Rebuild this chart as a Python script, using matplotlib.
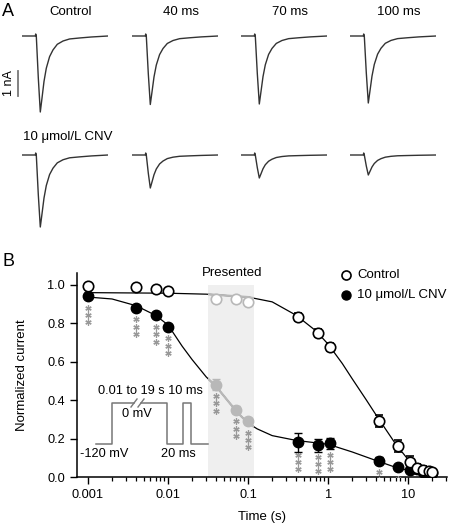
import numpy as np
import matplotlib.pyplot as plt
from matplotlib.ticker import FixedLocator, NullFormatter, FuncFormatter

plt.rcParams['font.family'] = ['Liberation Sans', 'DejaVu Sans']
plt.rcParams['font.size'] = 9.2

W, H = 450, 525

# ---- Panel A: current traces ----
conditions = ['Control', '40 ms', '70 ms', '100 ms']
control_peak_nA = [3.04, 2.74, 2.72, 2.68]
cnv_peak_nA = [2.88, 1.32, 0.92, 0.80]

# trace shape (time in ms-like units, peak = -1)
trace_t = [-13.3, 0, 0.4, 1.0, 3.0, 5.0, 6.7, 8.7, 11.0, 14.3, 17.7, 22.0, 27.7, 34.3, 44.3, 56.0, 72.7]
trace_shape = [0, 0, 0, 0, -0.55, -1.0, -0.817, -0.598, -0.424, -0.271, -0.183, -0.109, -0.066,
               -0.039, -0.026, -0.013, 0]
artifact_nA = [0, 0, 0.08, 0, 0, 0, 0, 0, 0, 0, 0, 0, 0, 0, 0, 0, 0]

# ---- Panel B: normalized current vs time ----
time_s = [0.001, 0.004, 0.007, 0.01, 0.04, 0.07, 0.1, 0.42, 0.75, 1.05, 4.3, 7.5, 10.5, 13, 15.5, 18, 20]
control_y = [0.99, 0.985, 0.975, 0.965, 0.925, 0.925, 0.91, 0.83, 0.75, 0.675, 0.29, 0.16, 0.08,
             0.045, 0.035, 0.03, 0.025]
control_err = [0.01, 0.01, 0.01, 0.01, 0.01, 0.01, 0.01, 0.02, 0.02, 0.02, 0.03, 0.03, 0.03,
               0.02, 0.02, 0.015, 0.01]
cnv_y = [0.94, 0.88, 0.84, 0.78, 0.48, 0.35, 0.29, 0.18, 0.165, 0.175, 0.085, 0.05, 0.035,
         0.04, 0.025, 0.02, 0.02]
cnv_err = [0.01, 0.01, 0.01, 0.015, 0.03, 0.02, 0.015, 0.05, 0.035, 0.03, 0.02, 0.01, 0.01,
           0.01, 0.01, 0.01, 0.01]
presented_idx = [4, 5, 6]
starred_idx = [0, 1, 2, 3, 4, 5, 6, 7, 8, 9, 10, 11]

# fitted curves
ctrl_fit_t = [0.001, 0.01, 0.03, 0.1, 0.2, 0.4, 0.7, 1.0, 1.5, 2, 3, 4, 5, 7, 10, 14, 20]
ctrl_fit_y = [0.958, 0.955, 0.95, 0.935, 0.91, 0.84, 0.76, 0.69, 0.59, 0.51, 0.40, 0.32, 0.26,
              0.17, 0.09, 0.045, 0.02]
cnv_fit_t = [0.001, 0.002, 0.004, 0.007, 0.01, 0.015, 0.02, 0.03, 0.04, 0.06, 0.08, 0.1, 0.13,
             0.2, 0.4, 1.0, 2.0, 4.0, 7, 10, 15, 20]
cnv_fit_y = [0.935, 0.925, 0.89, 0.84, 0.79, 0.68, 0.61, 0.52, 0.47, 0.38, 0.32, 0.28, 0.25,
             0.215, 0.19, 0.17, 0.13, 0.085, 0.05, 0.035, 0.025, 0.02]


def fx(px):
    return px / W


def fy(py):
    return 1 - py / H


fig = plt.figure(figsize=(W / 100, H / 100), dpi=100)

trace_color = '#333333'
col_left = [22, 132, 241, 350]
row_base = [36, 155]
for r, peaks in enumerate([control_peak_nA, cnv_peak_nA]):
    for c, pk in enumerate(peaks):
        top = row_base[r] - 0.3 * 25
        a = fig.add_axes([fx(col_left[c]), fy(top + 90), 86 / W, 90 / H])
        a.plot(trace_t, np.array(trace_shape) * pk + np.array(artifact_nA), color=trace_color, lw=1.0)
        a.set_xlim(-13.3, 72.7)
        a.set_ylim(-3.3, 0.3)
        a.axis('off')
        if r == 0:
            fig.text(fx(col_left[c] + 49), fy(12), conditions[c], ha='center', va='center', fontsize=9.5)

fig.text(fx(23), fy(137), '10 μmol/L CNV', ha='left', va='center', fontsize=9.5)
# scale bar 1 nA
fig.add_artist(plt.Line2D([fx(18), fx(18)], [fy(71), fy(96)], color='#777777', lw=1.3))
fig.text(fx(9), fy(83), '1 nA', rotation=90, ha='center', va='center', fontsize=9)

fig.text(fx(2), fy(12), 'A', ha='left', va='center', fontsize=13)
fig.text(fx(2), fy(262), 'B', ha='left', va='center', fontsize=13)

# ---- Panel B axes ----
ax = fig.add_axes([fx(77), fy(477), (447 - 77) / W, (477 - 273) / H])
ax.set_xscale('log')
ax.set_xlim(0.00073, 30.5)
ax.set_ylim(0, 1.06)
for s in ['top', 'right']:
    ax.spines[s].set_visible(False)
for s in ['left', 'bottom']:
    ax.spines[s].set_linewidth(1.1)

ax.xaxis.set_major_locator(FixedLocator([0.001, 0.01, 0.1, 1, 10]))
ax.xaxis.set_major_formatter(FuncFormatter(lambda v, p: '%g' % v))
minor = [m * 10.0 ** e for e in range(-3, 2) for m in range(2, 10)]
minor = [v for v in minor if v <= 30.5]
ax.xaxis.set_minor_locator(FixedLocator(minor))
ax.xaxis.set_minor_formatter(NullFormatter())
ax.set_yticks([0, 0.2, 0.4, 0.6, 0.8, 1.0])
ax.yaxis.set_major_formatter(FuncFormatter(lambda v, p: '%.1f' % v))
ax.tick_params(which='major', length=5, width=1.0, labelsize=9.2)
ax.tick_params(which='minor', length=3, width=0.9)

gray = '#b8b8b8'
span = ax.axvspan(0.032, 0.117, ymin=0, ymax=1.0 / 1.06, color='#efefef', lw=0, zorder=0)

for ft, fyv in [(ctrl_fit_t, ctrl_fit_y), (cnv_fit_t, cnv_fit_y)]:
    ax.plot(ft, fyv, color='k', lw=0.9, zorder=2)
    g, = ax.plot(ft, fyv, color=gray, lw=1.6, zorder=2.5)
    g.set_clip_path(span)

t = np.array(time_s)
normal = np.array([i not in presented_idx for i in range(len(t))])
pres = ~normal

# stars under CNV points
for i in starred_idx:
    off = max(0.06, cnv_err[i] + 0.015)
    ys = [cnv_y[i] - off - k * 0.038 for k in range(3)]
    ax.plot([t[i]] * 3, ys, ls='none', marker=(6, 2, 0), ms=4.5, mew=0.9, color='#999999', zorder=3)

cy, ce = np.array(control_y), np.array(control_err)
ny, ne = np.array(cnv_y), np.array(cnv_err)

ax.errorbar(t[normal], ny[normal], yerr=ne[normal], fmt='o', ms=7.5, mfc='k', mec='k', ecolor='k',
            elinewidth=1, capsize=3, capthick=1, zorder=4)
ax.errorbar(t[pres], ny[pres], yerr=ne[pres], fmt='o', ms=7.5, mfc=gray, mec=gray, ecolor=gray,
            elinewidth=1, capsize=3, capthick=1, zorder=4)
ax.errorbar(t[normal], cy[normal], yerr=ce[normal], fmt='o', ms=7.5, mfc='white', mec='k', mew=1.2,
            ecolor='k', elinewidth=1, capsize=3, capthick=1, zorder=5)
ax.errorbar(t[pres], cy[pres], yerr=ce[pres], fmt='o', ms=7.5, mfc='white', mec=gray, mew=1.2,
            ecolor=gray, elinewidth=1, capsize=3, capthick=1, zorder=5)

fig.text(fx(232), fy(273), 'Presented', ha='center', va='center', fontsize=9.5)

# legend
fig.add_artist(plt.Line2D([fx(346)], [fy(275)], marker='o', ms=6.5, mfc='white', mec='k', mew=1.2, ls='none'))
fig.add_artist(plt.Line2D([fx(346)], [fy(295)], marker='o', ms=6.5, mfc='k', mec='k', ls='none'))
fig.text(fx(357), fy(275), 'Control', ha='left', va='center', fontsize=9.5)
fig.text(fx(357), fy(295), '10 μmol/L CNV', ha='left', va='center', fontsize=9.5)

fig.text(fx(22), fy(375), 'Normalized current', rotation=90, ha='center', va='center', fontsize=9.5)
fig.text(fx(262), fy(517), 'Time (s)', ha='center', va='center', fontsize=9.5)

# voltage protocol inset (drawn in pixel units)
axp = fig.add_axes([fx(75), fy(465), (215 - 75) / W, (465 - 380) / H])
axp.set_xlim(75, 215)
axp.set_ylim(465, 380)
axp.axis('off')
pc = '#777777'
axp.plot([96, 112, 112, 134], [444, 444, 403, 403], color=pc, lw=1.1)
axp.plot([141, 167, 167, 183, 183, 191, 191, 208], [403, 403, 444, 444, 403, 403, 444, 444], color=pc, lw=1.1)
axp.plot([131, 137], [407, 399], color=pc, lw=1.0)
axp.plot([138, 144], [407, 399], color=pc, lw=1.0)
axp.text(98, 391, '0.01 to 19 s 10 ms', ha='left', va='center', fontsize=9.2)
axp.text(137, 414, '0 mV', ha='center', va='center', fontsize=9.2)
axp.text(104, 454, '-120 mV', ha='center', va='center', fontsize=9.2)
axp.text(178, 454, '20 ms', ha='center', va='center', fontsize=9.2)

fig.savefig('out.png', dpi=100)
